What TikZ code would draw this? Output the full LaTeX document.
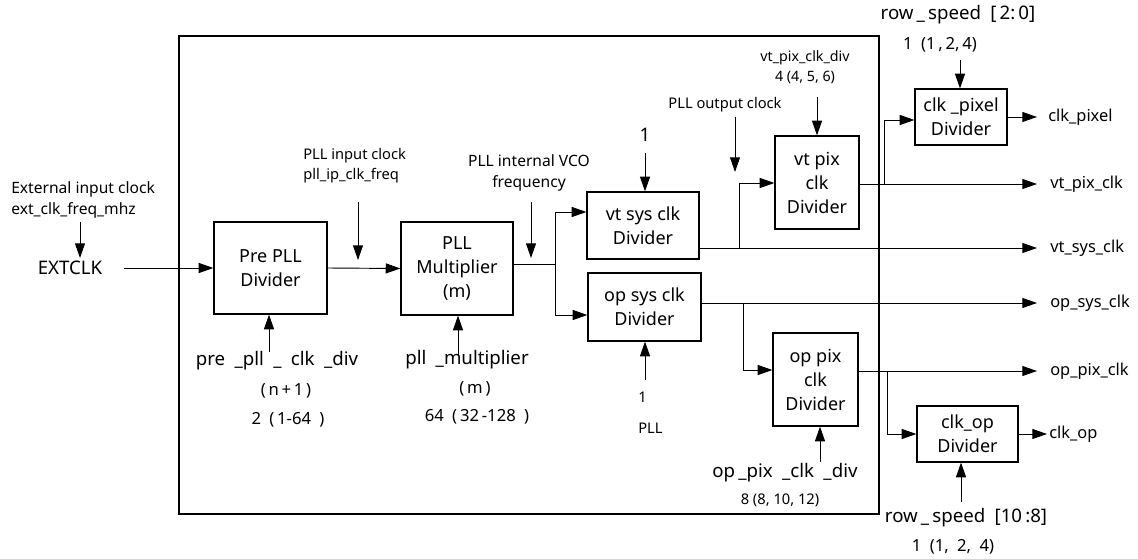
\documentclass[tikz,border=0pt]{standalone}
\usepackage{fontspec}
\setmainfont{Noto Sans}
\usetikzlibrary{arrows.meta}
\tikzset{
  blk/.style={draw, line width=0.9pt, inner sep=0pt, align=center, font=\fontsize{13.5}{18}\selectfont},
  wire/.style={line width=0.7pt},
  arr/.style={wire, -{Triangle[length=11pt,width=7.5pt]}},
  lbl/.style={inner sep=0pt, font=\fontsize{11.7}{15.75}\selectfont},
  num/.style={inner sep=0pt, font=\fontsize{12.5}{15}\selectfont},
  sml/.style={inner sep=0pt, font=\fontsize{11}{15}\selectfont},
  big/.style={inner sep=0pt, font=\fontsize{14}{16}\selectfont},
  outl/.style={inner sep=0pt, anchor=west, font=\fontsize{12.3}{15}\selectfont},
}
\begin{document}
\begin{tikzpicture}[x=0.75pt,y=-0.75pt]
\useasboundingbox (0,0) rectangle (1138,559);
% frame
\draw[line width=1.1pt] (179,36) rectangle (879,514);

% blocks
\node[blk, minimum width=84.75pt, minimum height=69pt] (pre) at (270.5,268) {Pre PLL\\Divider};
\node[blk, minimum width=84pt, minimum height=69.75pt] (mult) at (457,268.5) {PLL\\Multiplier\\(m)};
\node[blk, minimum width=84pt, minimum height=50.25pt] (vtsys) at (643,225.5) {vt sys clk\\Divider};
\node[blk, minimum width=84.75pt, minimum height=51pt] (opsys) at (644.5,307) {op sys clk\\Divider};
\node[blk, minimum width=63pt, minimum height=69.75pt] (vtpix) at (817,182.5) {vt pix\\clk\\Divider};
\node[blk, minimum width=63.75pt, minimum height=69.75pt] (oppix) at (815.5,379.5) {op pix\\clk\\Divider};
\node[blk, minimum width=69pt, minimum height=42pt] (clkpix) at (961,117) {clk \_pixel\\Divider};
\node[blk, minimum width=75.75pt, minimum height=42pt] (clkop) at (967.5,434) {clk\_op\\Divider};

% input side
\node[big] (ext) at (70,268) {EXTCLK};
\node[lbl, anchor=west, align=left] (extl) at (11,200) {External input clock\\ext\_clk\_freq\_mhz};
\coordinate (extin) at (80,222);
\draw[arr] (extin) -- (80,258);
\coordinate (exto) at (124,268);
\draw[arr] (exto) -- (pre.west);

\node[sml, anchor=west, align=left] (pllin) at (303,166) {PLL input clock\\pll\_ip\_clk\_freq};
\coordinate (pllinA) at (358,202);
\draw[arr] (pllinA) -- (358,260);
\draw[arr] (pre.east) -- (mult.west);

\node[lbl, align=center] (vco) at (529,173) {PLL internal VCO\\frequency};
\coordinate (vcoA) at (531,202);
\draw[arr] (vcoA) -- (531,258);

% branch after multiplier
\coordinate (b1) at (555,264);
\draw[wire] (mult.east |- b1) -- (b1);
\draw[arr] (b1) -- (555,212) -- (vtsys.west |- 555,212);
\draw[arr] (b1) -- (555,315) -- (opsys.west |- 555,315);

\node[big] (one1) at (645,135) {1};
\coordinate (one1A) at (645,153);
\draw[arr] (one1A) -- (vtsys.north -| one1A);

\node[sml, anchor=west] (one2) at (638,397) {1};
\node[sml, anchor=west] (pllb) at (638,428) {PLL};
\coordinate (one2A) at (645,380);
\draw[arr] (one2A) -- (opsys.south -| one2A);

% vt sys output
\coordinate (vss) at (1037,248);
\draw[arr] (vtsys.east |- vss) -- (vss);
\node[outl] (vssl) at (1050,248) {vt\_sys\_clk};
\coordinate (b2) at (739,248);
\draw[arr] (b2) -- (739,183) -- (vtpix.west |- 739,183);

\node[sml] (pllout) at (725,105) {PLL output clock};
\coordinate (plloutA) at (735,117);
\draw[arr] (plloutA) -- (735,172);

\node[inner sep=0pt, align=center, font=\fontsize{10.7}{15}\selectfont] (vpd) at (805,67) {vt\_pix\_clk\_div\\4 (4, 5, 6)};
\coordinate (vpdA) at (817,97);
\draw[arr] (vpdA) -- (vtpix.north);

% vt pix output
\coordinate (vps) at (1037,184);
\draw[arr] (vtpix.east |- vps) -- (vps);
\node[outl] (vpsl) at (1050,184) {vt\_pix\_clk};
\coordinate (b3) at (884,184);
\draw[arr] (b3) -- (884,120) -- (clkpix.west |- 884,120);

\node[big] (rs1) at (958,15) {row\,\_\,speed\enspace[\,2:\,0]};
\node[num] (rs1v) at (940,45) {1\enspace(1\,,\,2,\,4)};
\coordinate (rs1A) at (960,60);
\draw[arr] (rs1A) -- (clkpix.north -| rs1A);
\coordinate (cpo) at (1037,117);
\draw[arr] (clkpix.east) -- (cpo);
\node[outl] (cpol) at (1048,117) {clk\_pixel};

% op sys output
\coordinate (oss) at (1037,303);
\draw[arr] (opsys.east |- oss) -- (oss);
\node[outl] (ossl) at (1050,303) {op\_sys\_clk};
\coordinate (b4) at (743,303);
\draw[arr] (b4) -- (743,370) -- (oppix.west |- 743,370);

\node[big] (opd) at (785,473) {op\,\_pix\enspace\_clk\enspace\_div};
\node[sml] (opdv) at (780,500) {8 (8, 10, 12)};
\coordinate (opdA) at (820,462);
\draw[arr] (opdA) -- (oppix.south -| opdA);

% op pix output
\coordinate (ops) at (1037,371);
\draw[arr] (oppix.east |- ops) -- (ops);
\node[outl] (opsl) at (1050,371) {op\_pix\_clk};
\coordinate (b5) at (887,371);
\draw[arr] (b5) -- (887,434) -- (clkop.west);

\coordinate (cop) at (1047,434);
\draw[arr] (clkop.east) -- (cop);
\node[outl] (copl) at (1049,434) {clk\_op};

\node[big] (rs2) at (966,518) {row\,\_\,speed\enspace[10\,:8]};
\node[num] (rs2v) at (953,547) {1\enspace(1,\enspace2,\enspace4)};
\coordinate (rs2A) at (961,502);
\draw[arr] (rs2A) -- (clkop.south -| rs2A);

% bottom-left labels
\node[big] (pcd) at (277,361) {pre\enspace\_pll\enspace\_\enspace clk\enspace\_div};
\node[num] (pcdn) at (286,391) {(\,n\,+\,1\,)};
\node[num] (pcdv) at (288,420) {2\enspace(\,1-64\enspace)};
\coordinate (pcdA) at (269,352);
\draw[arr] (pcdA) -- (pre.south -| pcdA);

\node[big] (pm) at (467,360) {pll\enspace\_multiplier};
\node[num] (pmm) at (475,389) {(\,m\,)};
\node[num] (pmv) at (477,417) {64\enspace(\,32\,-128\enspace)};
\coordinate (pmA) at (458,355);
\draw[arr] (pmA) -- (mult.south -| pmA);
\end{tikzpicture}
\end{document}
